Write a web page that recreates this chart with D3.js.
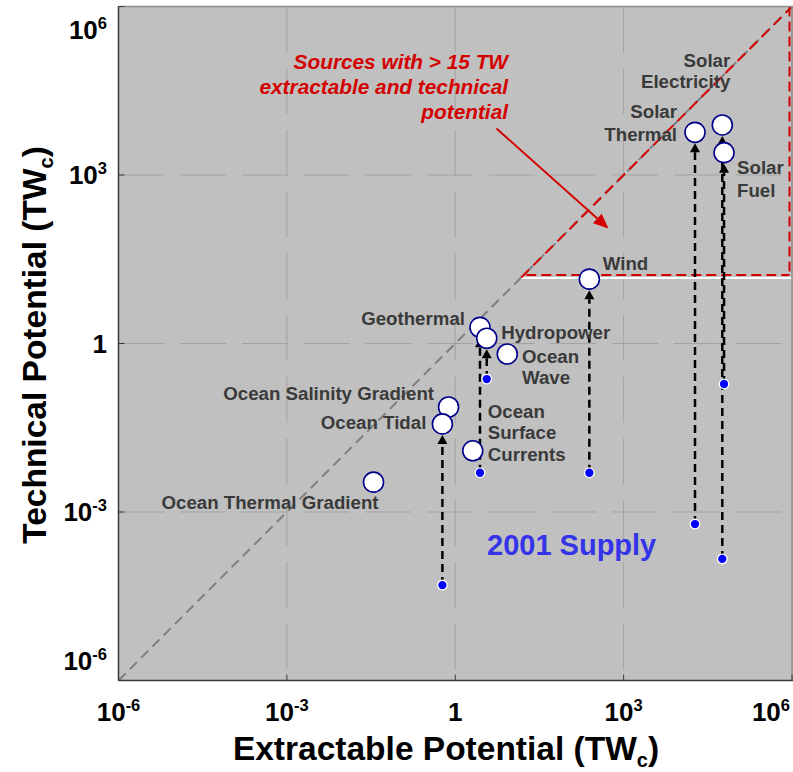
<!DOCTYPE html>
<html>
<head>
<meta charset="utf-8">
<script src="https://cdn.jsdelivr.net/npm/d3@7"></script>
<style>
  html, body { margin: 0; padding: 0; background: #ffffff; }
  svg { display: block; }
  text { font-family: "Liberation Sans", Arial, Helvetica, sans-serif; }
</style>
</head>
<body>
<svg id="chart" width="793" height="772"></svg>
<script>
// ---------------- data ----------------
const sources = ["Ocean Thermal Gradient", "Ocean Salinity Gradient", "Ocean Tidal",
  "Ocean Surface Currents", "Geothermal", "Hydropower", "Ocean Wave", "Wind",
  "Solar Thermal", "Solar Electricity", "Solar Fuel"];
const extractable = [0.035, 0.76, 0.59, 2.05, 2.76, 3.64, 8.45, 245, 1.87e4, 5.73e4, 6.15e4];
const technical   = [0.0034, 0.074, 0.037, 0.0123, 1.94, 1.24, 0.65, 14, 5750, 7770, 2500];
const supply2001  = [null, null, 5e-5, null, 0.005, 0.233, null, 0.005, 6.1e-4, 1.46e-4, 0.19];
const tickExponents = [-6, -3, 0, 3, 6];
const thresholdTW = 15;
const axisMin = 1e-6, axisMax = 1e6;
const xTitle = "Extractable Potential (TW";
const yTitle = "Technical Potential (TW";
const annotationLines = ["Sources with > 15 TW", "extractable and technical", "potential"];
const supplyLabel = "2001 Supply";

// ---------------- layout (pixel offsets for labels) ----------------
const labelLayout = {
  "Ocean Thermal Gradient": { lines: ["Ocean Thermal Gradient"], anchor: "end", dx: 5, dy: [20.5] },
  "Ocean Salinity Gradient": { lines: ["Ocean Salinity Gradient"], anchor: "end", dx: -14.5, dy: [-14] },
  "Ocean Tidal": { lines: ["Ocean Tidal"], anchor: "end", dx: -16, dy: [-1] },
  "Ocean Surface Currents": { lines: ["Ocean", "Surface", "Currents"], anchor: "start", dx: 15, dy: [-39, -18, 3.3] },
  "Geothermal": { lines: ["Geothermal"], anchor: "end", dx: -15, dy: [-9] },
  "Hydropower": { lines: ["Hydropower"], anchor: "start", dx: 14.5, dy: [-5.6] },
  "Ocean Wave": { lines: ["Ocean", "Wave"], anchor: "start", dx: 14.7, dy: [2, 23.7] },
  "Wind": { lines: ["Wind"], anchor: "start", dx: 13.4, dy: [-16] },
  "Solar Thermal": { lines: ["Solar", "Thermal"], anchor: "end", dx: -18, dy: [-20.6, 1.7] },
  "Solar Electricity": { lines: ["Solar", "Electricity"], anchor: "end", dx: 8, dy: [-64, -43] },
  "Solar Fuel": { lines: ["Solar", "Fuel"], anchor: "start", dx: 13, dy: [15, 38] }
};

const W = 793, H = 772;
const L = 118.5, R = 792, T = 6.5, B = 680.5;

const svg = d3.select("#chart");
const x = d3.scaleLog().domain([axisMin, axisMax]).range([L, R]);
const y = d3.scaleLog().domain([axisMin, axisMax]).range([B, T]);

// background
svg.append("rect").attr("x", 0).attr("y", 0).attr("width", W).attr("height", H).attr("fill", "#ffffff");
svg.append("rect").attr("x", L).attr("y", T).attr("width", W - L).attr("height", B - T).attr("fill", "#c0c0c0");

svg.append("defs").append("clipPath").attr("id", "plotclip")
  .append("rect").attr("x", L).attr("y", T).attr("width", W - L).attr("height", B - T);

const plot = svg.append("g").attr("clip-path", "url(#plotclip)");

// grid
const gridVals = tickExponents.map(e => Math.pow(10, e)).filter(v => v > axisMin && v < axisMax);
plot.selectAll(".vgrid").data(gridVals).join("line")
  .attr("x1", d => x(d)).attr("x2", d => x(d)).attr("y1", T).attr("y2", B)
  .attr("stroke", "#a3a3a3").attr("stroke-width", 1).attr("stroke-dasharray", "46,15.7");
plot.selectAll(".hgrid").data(gridVals).join("line")
  .attr("x1", L).attr("x2", R).attr("y1", d => y(d)).attr("y2", d => y(d))
  .attr("stroke", "#a3a3a3").attr("stroke-width", 1).attr("stroke-dasharray", "46,15.7");

// 1:1 diagonal
plot.append("line")
  .attr("x1", x(axisMin)).attr("y1", y(axisMin)).attr("x2", x(axisMax)).attr("y2", y(axisMax))
  .attr("stroke", "#7f7f7f").attr("stroke-width", 2).attr("stroke-dasharray", "10,6");

// white threshold line
plot.append("line")
  .attr("x1", x(thresholdTW)).attr("x2", W).attr("y1", y(thresholdTW) + 0.6).attr("y2", y(thresholdTW) + 0.6)
  .attr("stroke", "#ffffff").attr("stroke-width", 2);

// red region
const red = "#d40000";
plot.append("line")
  .attr("x1", x(thresholdTW)).attr("y1", y(thresholdTW)).attr("x2", x(axisMax)).attr("y2", y(axisMax))
  .attr("stroke", red).attr("stroke-width", 2).attr("stroke-dasharray", "11,6");
plot.append("line")
  .attr("x1", x(thresholdTW) + 5).attr("x2", x(axisMax) - 2.5)
  .attr("y1", y(thresholdTW) - 2.4).attr("y2", y(thresholdTW) - 2.4)
  .attr("stroke", red).attr("stroke-width", 2).attr("stroke-dasharray", "10,5");
plot.append("line")
  .attr("x1", x(axisMax) - 2.5).attr("x2", x(axisMax) - 2.5)
  .attr("y1", y(axisMax)).attr("y2", y(thresholdTW) - 2.4)
  .attr("stroke", red).attr("stroke-width", 2).attr("stroke-dasharray", "10,5");

// axis frame
svg.append("line").attr("x1", L).attr("x2", W).attr("y1", T).attr("y2", T).attr("stroke", "#8c8c8c").attr("stroke-width", 1.5);
svg.append("line").attr("x1", R).attr("x2", R).attr("y1", T).attr("y2", B).attr("stroke", "#8c8c8c").attr("stroke-width", 1.5);
svg.append("line").attr("x1", L).attr("x2", W).attr("y1", B).attr("y2", B).attr("stroke", "#3a3a3a").attr("stroke-width", 1.5);
svg.append("line").attr("x1", L).attr("x2", L).attr("y1", T).attr("y2", B).attr("stroke", "#3a3a3a").attr("stroke-width", 1.5);

// tick marks (inside)
const tickVals = tickExponents.map(e => Math.pow(10, e));
svg.selectAll(".xtick").data(tickVals).join("line")
  .attr("x1", d => x(d)).attr("x2", d => x(d)).attr("y1", B).attr("y2", B - 6)
  .attr("stroke", "#3a3a3a").attr("stroke-width", 1);
svg.selectAll(".ytick").data(tickVals).join("line")
  .attr("x1", L).attr("x2", L + 6).attr("y1", d => y(d)).attr("y2", d => y(d))
  .attr("stroke", "#3a3a3a").attr("stroke-width", 1);

// tick labels
function tickLabel(sel, e) {
  if (e === 0) { sel.append("tspan").text("1"); return; }
  sel.append("tspan").text("10");
  sel.append("tspan").attr("dy", -10).attr("font-size", 16.5).text(e < 0 ? "-" + (-e) : String(e));
}
tickExponents.forEach((e, i) => {
  const v = Math.pow(10, e);
  let tx = x(v), anchor = "middle";
  if (i === tickExponents.length - 1) { tx = 790; anchor = "end"; }
  const t = svg.append("text").attr("x", tx).attr("y", 721)
    .attr("text-anchor", anchor).attr("font-size", 26).attr("font-weight", "bold").attr("fill", "#000");
  tickLabel(t, e);
});
tickExponents.forEach((e, i) => {
  const v = Math.pow(10, e);
  let ty = y(v);
  if (i === 0) ty -= 20;
  if (i === tickExponents.length - 1) ty += 23;
  const t = svg.append("text").attr("x", 107).attr("y", ty + 9)
    .attr("text-anchor", "end").attr("font-size", 26).attr("font-weight", "bold").attr("fill", "#000");
  tickLabel(t, e);
});

// axis titles
function titleText(sel, label) {
  sel.append("tspan").text(label);
  sel.append("tspan").attr("dy", 7).attr("font-size", 20).text("c");
  sel.append("tspan").attr("dy", -7).text(")");
}
const xt = svg.append("text").attr("x", 446).attr("y", 760)
  .attr("text-anchor", "middle").attr("font-size", 33.5).attr("font-weight", "bold").attr("fill", "#000");
titleText(xt, xTitle);
const yt = svg.append("text").attr("transform", `translate(46,345) rotate(-90)`)
  .attr("text-anchor", "middle").attr("font-size", 33.5).attr("font-weight", "bold").attr("fill", "#000");
titleText(yt, yTitle);

// data records
const records = sources.map((s, i) => ({ name: s, ex: extractable[i], tech: technical[i], sup: supply2001[i] }));
const R0 = 10;

// supply arrows
const arrows = plot.append("g");
records.filter(d => d.sup !== null).forEach(d => {
  const cx = x(d.ex), tipY = y(d.tech) + R0 + 1, baseY = tipY + 9;
  arrows.append("line").attr("x1", cx).attr("x2", cx).attr("y1", y(d.sup)).attr("y2", baseY)
    .attr("stroke", "#000").attr("stroke-width", 2.5).attr("stroke-dasharray", "8,5");
  arrows.append("path")
    .attr("d", `M${cx},${tipY} L${cx - 5},${baseY} L${cx + 5},${baseY} Z`)
    .attr("fill", "#000");
});

// supply dots
plot.selectAll(".supply").data(records.filter(d => d.sup !== null)).join("circle")
  .attr("cx", d => x(d.ex)).attr("cy", d => y(d.sup)).attr("r", 4.8)
  .attr("fill", "#0000ff").attr("stroke", "#ffffff").attr("stroke-width", 1.3);

// technical potential circles
plot.selectAll(".tech").data(records).join("circle")
  .attr("cx", d => x(d.ex)).attr("cy", d => y(d.tech)).attr("r", R0)
  .attr("fill", "#ffffff").attr("stroke", "#00008b").attr("stroke-width", 1.6);

// source labels
records.forEach(d => {
  const lay = labelLayout[d.name];
  lay.lines.forEach((ln, k) => {
    svg.append("text").attr("x", x(d.ex) + lay.dx).attr("y", y(d.tech) + lay.dy[k])
      .attr("text-anchor", lay.anchor).attr("dominant-baseline", "central")
      .attr("font-size", 18.7).attr("font-weight", "bold").attr("fill", "#3a3a3a").text(ln);
  });
});

// 2001 supply label
svg.append("text").attr("x", 487).attr("y", 545).attr("dominant-baseline", "central")
  .attr("font-size", 29).attr("font-weight", "bold").attr("fill", "#3434e8").text(supplyLabel);

// red annotation
annotationLines.forEach((ln, k) => {
  svg.append("text").attr("x", 508).attr("y", 61.7 + 25 * k).attr("dominant-baseline", "central")
    .attr("text-anchor", "end").attr("font-size", 20.8).attr("font-weight", "bold").attr("font-style", "italic")
    .attr("fill", red).text(ln);
});
const ax1 = 496.5, ay1 = 128.5, ax2 = 608.5, ay2 = 228.5;
const ang = Math.atan2(ay2 - ay1, ax2 - ax1);
const hl = 15, hw = 6.5;
const bx = ax2 - hl * Math.cos(ang), by = ay2 - hl * Math.sin(ang);
svg.append("line").attr("x1", ax1).attr("y1", ay1).attr("x2", bx).attr("y2", by)
  .attr("stroke", red).attr("stroke-width", 2);
svg.append("path")
  .attr("d", `M${ax2},${ay2} L${bx + hw * Math.sin(ang)},${by - hw * Math.cos(ang)} L${bx - hw * Math.sin(ang)},${by + hw * Math.cos(ang)} Z`)
  .attr("fill", red);
</script>
</body>
</html>
